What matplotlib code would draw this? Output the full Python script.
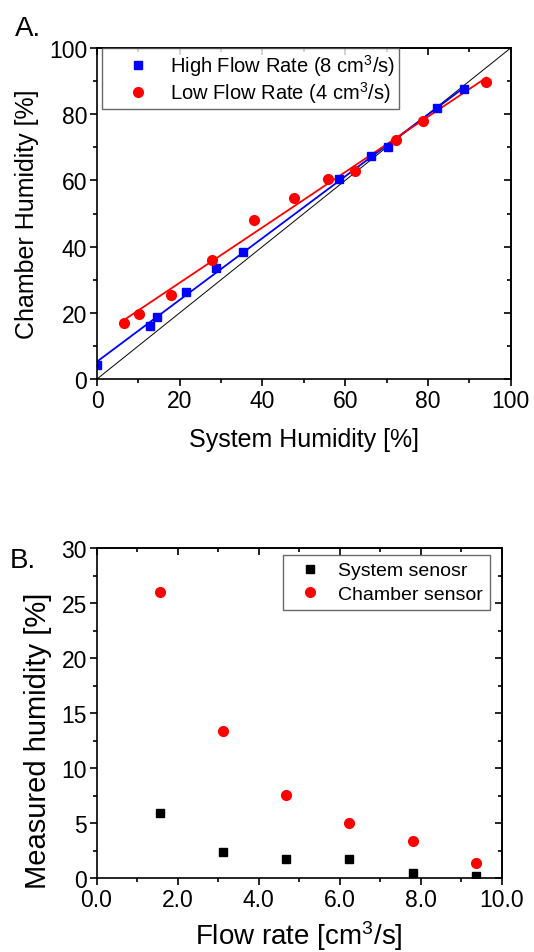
import numpy as np
import matplotlib
matplotlib.use("Agg")
import matplotlib.pyplot as plt
from matplotlib.ticker import MultipleLocator, FormatStrFormatter

plt.rcParams['font.family'] = ['Liberation Sans', 'DejaVu Sans']
plt.rcParams['mathtext.fontset'] = 'custom'
plt.rcParams['mathtext.rm'] = 'Liberation Sans'
plt.rcParams['mathtext.default'] = 'regular'

# panel A data: system vs chamber humidity
high_sys = [0.0, 12.7, 14.4, 21.5, 28.7, 35.3, 58.6, 66.3, 70.3, 82.1, 88.8]
high_cham = [4.3, 16.0, 18.8, 26.3, 33.4, 38.3, 60.3, 67.3, 70.2, 81.9, 87.6]
low_sys = [6.5, 10.2, 17.9, 27.8, 37.9, 47.5, 55.8, 62.3, 72.3, 78.8, 94.1]
low_cham = [16.9, 19.5, 25.3, 36.0, 48.0, 54.6, 60.4, 62.9, 72.2, 77.9, 89.6]

# panel B data: measured humidity vs flow rate
flow = [1.56, 3.12, 4.68, 6.24, 7.80, 9.36]
system_sensor = [5.94, 2.36, 1.73, 1.73, 0.45, 0.15]
chamber_sensor = [26.06, 13.42, 7.58, 4.97, 3.36, 1.39]

W, H = 534, 953
fig = plt.figure(figsize=(W / 100, H / 100), dpi=100)

TICK_FS = 16.5
LAB_FS = 18


def box_ticks(ax, xmaj, xmin, ymaj, ymin):
    # Origin style: ticks outward on left/bottom, inward on top/right
    ax.xaxis.set_major_locator(MultipleLocator(xmaj))
    ax.xaxis.set_minor_locator(MultipleLocator(xmin))
    ax.yaxis.set_major_locator(MultipleLocator(ymaj))
    ax.yaxis.set_minor_locator(MultipleLocator(ymin))
    ax.tick_params(which='both', direction='out', width=1.2, labelsize=TICK_FS, pad=2)
    ax.tick_params(which='major', length=5)
    ax.tick_params(which='minor', length=3)
    for s in ax.spines.values():
        s.set_linewidth(1.2)
    top = ax.secondary_xaxis('top')
    right = ax.secondary_yaxis('right')
    for sec, axis in ((top, top.xaxis), (right, right.yaxis)):
        axis.set_major_locator(MultipleLocator(xmaj if sec is top else ymaj))
        axis.set_minor_locator(MultipleLocator(xmin if sec is top else ymin))
        sec.tick_params(which='both', direction='in', width=1.2,
                        labeltop=False, labelright=False)
        sec.tick_params(which='major', length=5)
        sec.tick_params(which='minor', length=3)
        for s in sec.spines.values():
            s.set_linewidth(1.2)


# ---- Panel A ----
axA = fig.add_axes([97 / W, 1 - 380 / H, (510.7 - 97) / W, (380 - 49) / H])
axA.plot([0, 100], [0, 100], color='black', lw=0.7)
for xs, ys, c in ((high_sys, high_cham, 'blue'), (low_sys, low_cham, 'red')):
    k, b = np.polyfit(xs, ys, 1)
    xx = np.array([min(xs), max(xs)])
    axA.plot(xx, k * xx + b, color=c, lw=1.3)
axA.plot(high_sys, high_cham, 's', color='blue', ms=6, ls='none',
         label='High Flow Rate (8 cm$^{3}$/s)')
axA.plot(low_sys, low_cham, 'o', color='red', ms=7, ls='none',
         label='Low Flow Rate (4 cm$^{3}$/s)')
axA.set_xlim(0, 100)
axA.set_ylim(0, 100)
box_ticks(axA, 20, 10, 20, 10)
axA.set_xlabel('System Humidity [%]', fontsize=LAB_FS, labelpad=11)
axA.set_ylabel('Chamber Humidity [%]', fontsize=LAB_FS, labelpad=7.5)
legA = axA.legend(loc='upper left', bbox_to_anchor=(0.011, 1.0), fontsize=14.5,
                  frameon=True, fancybox=False, edgecolor='#444444',
                  handlelength=3.2, handletextpad=0.0, labelspacing=0.05,
                  borderpad=0.2, borderaxespad=0)
legA.get_frame().set_linewidth(1.0)
fig.text(15 / W, 1 - 36 / H, 'A.', fontsize=20)

# ---- Panel B ----
axB = fig.add_axes([96.5 / W, 1 - 879 / H, (501.7 - 96.5) / W, (879 - 549.3) / H])
axB.plot(flow, system_sensor, 's', color='black', ms=6, ls='none',
         label='System senosr')
axB.plot(flow, chamber_sensor, 'o', color='red', ms=7, ls='none',
         label='Chamber sensor')
axB.set_xlim(0, 10)
axB.set_ylim(0, 30)
box_ticks(axB, 2, 1, 5, 2.5)
axB.xaxis.set_major_formatter(FormatStrFormatter('%.1f'))
axB.set_xlabel('Flow rate [cm$^{3}$/s]', fontsize=20, labelpad=5.5)
axB.set_ylabel('Measured humidity [%]', fontsize=21)
axB.yaxis.set_label_coords(-0.11, 0.42)
legB = axB.legend(loc='upper right', bbox_to_anchor=(0.971, 0.98), fontsize=14,
                  frameon=True, fancybox=False, edgecolor='#444444',
                  handlelength=2.1, handletextpad=0.4, labelspacing=0.3,
                  borderpad=0.35, borderaxespad=0)
legB.get_frame().set_linewidth(1.0)
fig.text(10 / W, 1 - 568 / H, 'B.', fontsize=20)

fig.savefig('out.png', dpi=100)
